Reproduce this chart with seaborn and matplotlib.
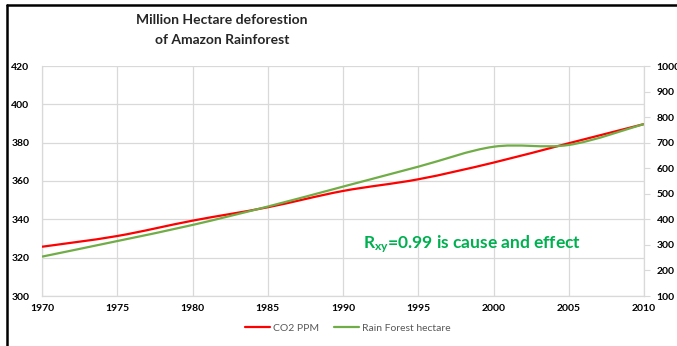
import numpy as np
import pandas as pd
import matplotlib
matplotlib.use("Agg")
import matplotlib.pyplot as plt
from matplotlib.path import Path
from matplotlib.patches import PathPatch
from matplotlib.lines import Line2D
import seaborn as sns

# ---- data -------------------------------------------------------------
years = [1970, 1975, 1980, 1985, 1990, 1995, 2000, 2005, 2010]
co2_ppm = [325.7, 331.3, 339.3, 346.3, 354.8, 360.9, 369.6, 379.7, 389.7]
rainforest_hectare = [254, 315, 378, 450, 528, 606, 684, 691, 773]

co2_ticks = [300, 320, 340, 360, 380, 400, 420]
hectare_ticks = [100, 200, 300, 400, 500, 600, 700, 800, 900, 1000]
year_ticks = [1970, 1975, 1980, 1985, 1990, 1995, 2000, 2005, 2010]

series_names = ["CO2 PPM", "Rain Forest hectare"]
title_lines = ["Million Hectare deforestion", "of Amazon Rainforest"]
note_text = r"R$_{\mathregular{xy}}$=0.99 is cause and effect"

# ---- style ------------------------------------------------------------
sns.set_theme(style="white")
plt.rcParams["font.family"] = ["Lato", "DejaVu Sans"]
plt.rcParams["mathtext.default"] = "regular"

RED = "#FF0000"
GREEN = "#70AD47"
GRID = "#D9D9D9"
LW = 1.6

W, H = 677, 346
fig = plt.figure(figsize=(W / 100, H / 100), dpi=100)
ax = fig.add_axes([42 / W, 1 - 296 / H, (644 - 42) / W, (296 - 66) / H])
ax2 = ax.twinx()

df = pd.DataFrame({"year": years, "co2": co2_ppm, "forest": rainforest_hectare})


def smooth_path(xy):
    """Cubic Bezier path through the points (Catmull-Rom style tangents)."""
    pts = np.asarray(xy, dtype=float)
    ext = np.vstack([pts[0], pts, pts[-1]])
    verts = [pts[0]]
    codes = [Path.MOVETO]
    for i in range(len(pts) - 1):
        p0, p1, p2, p3 = ext[i], ext[i + 1], ext[i + 2], ext[i + 3]
        verts += [p1 + (p2 - p0) / 6, p2 - (p3 - p1) / 6, p2]
        codes += [Path.CURVE4] * 3
    return Path(verts, codes)


def draw_smooth(axis, y, color):
    sns.lineplot(data=df, x="year", y=y, ax=axis, color=color, lw=LW, legend=False)
    line = axis.lines[-1]
    patch = PathPatch(smooth_path(line.get_xydata()), fill=False, edgecolor=color,
                      lw=LW, capstyle="butt", joinstyle="round", zorder=3)
    axis.add_patch(patch)
    line.set_visible(False)


draw_smooth(ax, "co2", RED)
draw_smooth(ax2, "forest", GREEN)

# ---- axes -------------------------------------------------------------
ax.set_xlim(1970, 2010)
ax.set_ylim(300, 420)
ax2.set_ylim(100, 1000)

ax.set_xticks(year_ticks)
ax.set_yticks(co2_ticks)
ax2.set_yticks(hectare_ticks)
ax.set_xlabel("")
ax.set_ylabel("")
ax2.set_ylabel("")

tick_font = dict(fontsize=7.5, fontweight="bold", color="black")
ax.set_xticklabels([str(t) for t in year_ticks], **tick_font)
ax.set_yticklabels([str(t) for t in co2_ticks], **tick_font)
ax2.set_yticklabels([str(t) for t in hectare_ticks], **tick_font)

ax.grid(True, color=GRID, lw=0.9)
ax.set_axisbelow(True)
ax2.grid(False)

ax.tick_params(axis="both", length=0)
ax.tick_params(axis="y", pad=9)
ax.tick_params(axis="x", pad=6)
ax2.tick_params(axis="y", length=4, width=0.8, color=GRID, direction="out", pad=5)

for s in ["top", "right"]:
    ax.spines[s].set_visible(False)
for s in ["left", "bottom"]:
    ax.spines[s].set_color(GRID)
    ax.spines[s].set_linewidth(0.9)
for s in ["top", "left", "bottom"]:
    ax2.spines[s].set_visible(False)
ax2.spines["right"].set_color(GRID)
ax2.spines["right"].set_linewidth(0.9)

# ---- title, note, legend ---------------------------------------------
fig.text(222 / W, 1 - 20 / H, title_lines[0], ha="center", va="center",
         fontsize=10, fontweight="bold", color="#262626")
fig.text(222 / W, 1 - 40 / H, title_lines[1], ha="center", va="center",
         fontsize=10, fontweight="bold", color="#262626")

fig.text(363 / W, 1 - 248 / H, note_text, ha="left", va="baseline",
         fontsize=12.5, fontweight="bold", color="#00B050")

handles = [Line2D([], [], color=RED, lw=LW), Line2D([], [], color=GREEN, lw=LW)]
fig.legend(handles, series_names, loc="center", bbox_to_anchor=(348 / W, 1 - 328 / H),
           ncol=2, frameon=False, fontsize=7.5, handlelength=2.4, handletextpad=0.3,
           columnspacing=1.4, labelcolor="#595959")

# ---- outer frame ------------------------------------------------------
fig.add_artist(Line2D([7 / W, 7 / W], [0, 1 - 5 / H], transform=fig.transFigure,
                      color="black", lw=1.8))
fig.add_artist(Line2D([7 / W, 1], [1 - 5 / H, 1 - 5 / H], transform=fig.transFigure,
                      color="black", lw=1.8))

fig.savefig("out.png", dpi=100)
